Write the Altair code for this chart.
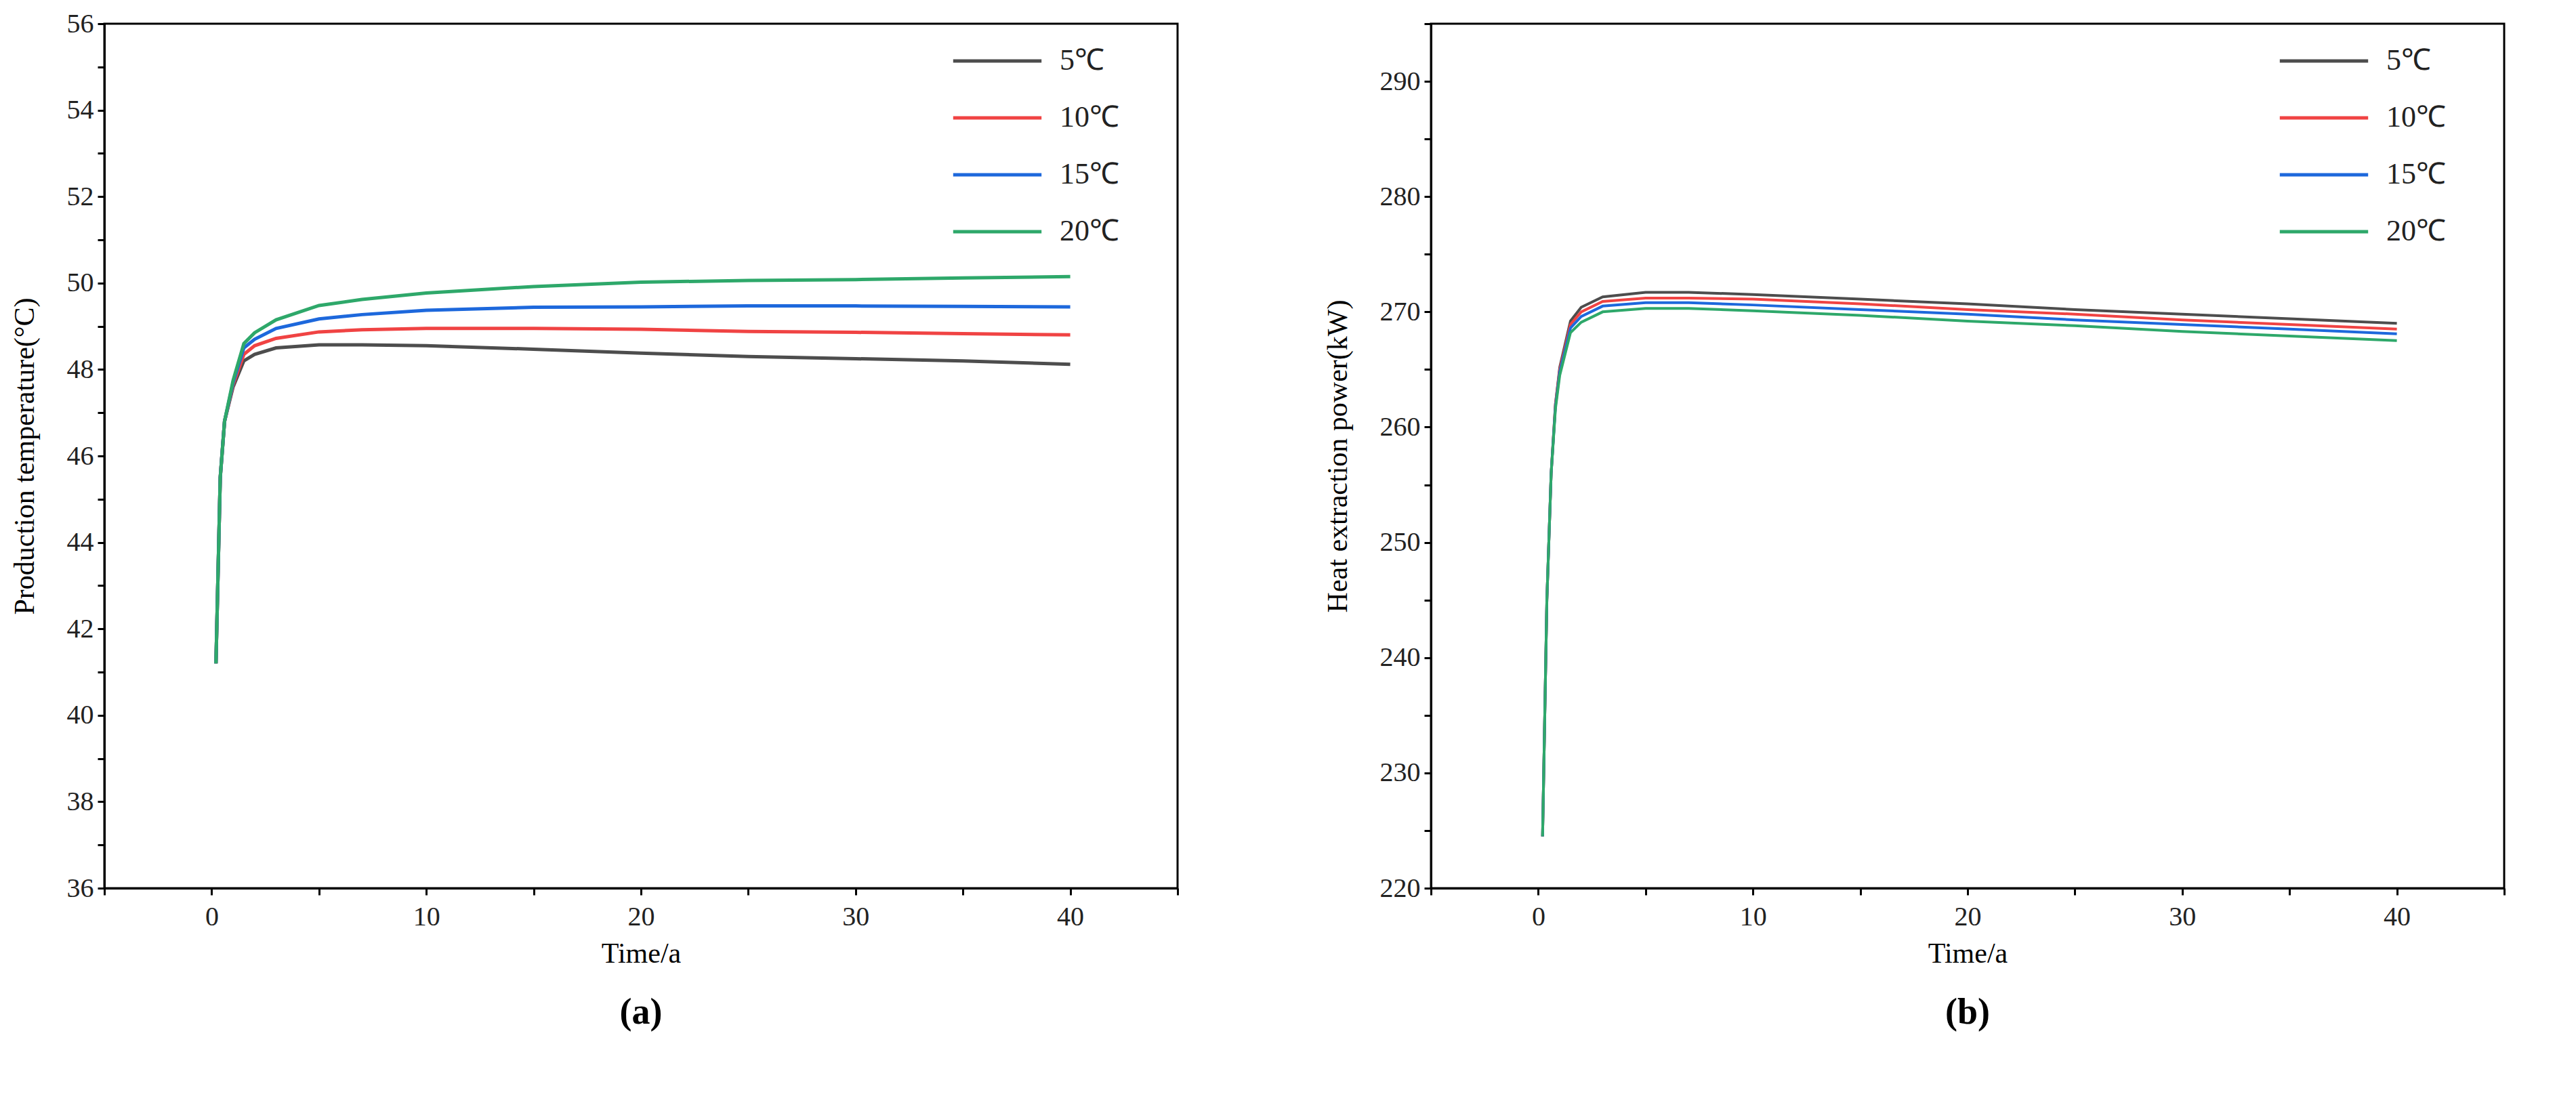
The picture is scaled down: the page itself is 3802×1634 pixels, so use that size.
import altair as alt
import pandas as pd

series = ["5℃", "10℃", "15℃", "20℃"]
colors = ["#4d4d4d", "#f04343", "#1d68dc", "#2ea86a"]

t_a = [0.2, 0.4, 0.6, 1.0, 1.5, 2, 3, 5, 7, 10, 15, 20, 25, 30, 35, 40]
temp_5 = [41.2, 45.5, 46.8, 47.6, 48.2, 48.35, 48.5, 48.57, 48.57, 48.55, 48.47, 48.38, 48.3, 48.25, 48.2, 48.12]
temp_10 = [41.2, 45.5, 46.8, 47.65, 48.35, 48.55, 48.72, 48.87, 48.92, 48.95, 48.95, 48.93, 48.88, 48.86, 48.83, 48.8]
temp_15 = [41.2, 45.5, 46.8, 47.7, 48.5, 48.7, 48.95, 49.17, 49.27, 49.37, 49.44, 49.45, 49.47, 49.47, 49.46, 49.45]
temp_20 = [41.2, 45.5, 46.8, 47.75, 48.6, 48.85, 49.15, 49.48, 49.62, 49.77, 49.92, 50.02, 50.06, 50.08, 50.12, 50.15]

t_b = [0.2, 0.4, 0.6, 0.8, 1.0, 1.5, 2, 3, 5, 7, 10, 15, 20, 25, 30, 35, 40]
pow_5 = [224.5, 245, 256, 262, 265.2, 269.2, 270.4, 271.3, 271.7, 271.7, 271.5, 271.1, 270.7, 270.2, 269.8, 269.4, 269.0]
pow_10 = [224.5, 245, 256, 262, 265.0, 268.9, 270.0, 270.9, 271.2, 271.2, 271.1, 270.7, 270.2, 269.8, 269.3, 268.9, 268.5]
pow_15 = [224.5, 245, 256, 261.8, 264.8, 268.6, 269.6, 270.5, 270.8, 270.8, 270.6, 270.2, 269.8, 269.3, 268.9, 268.5, 268.1]
pow_20 = [224.5, 245, 256, 261.6, 264.5, 268.2, 269.1, 270.0, 270.3, 270.3, 270.1, 269.7, 269.2, 268.8, 268.3, 267.9, 267.5]

def frame(t, cols):
    rows = []
    for name, vals in zip(series, cols):
        for x, v in zip(t, vals):
            rows.append({"t": x, "v": v, "s": name})
    return pd.DataFrame(rows)

df_a = frame(t_a, [temp_5, temp_10, temp_15, temp_20])
df_b = frame(t_b, [pow_5, pow_10, pow_15, pow_20])

FONT = "Liberation Serif"

def panel(df, ydom, ystep, yminor, ytitle, label, lw):
    yvals = [ydom[0] + i * yminor for i in range(int(round((ydom[1] - ydom[0]) / yminor)) + 1)]
    return alt.Chart(df).mark_line(strokeWidth=lw).encode(
        x=alt.X("t:Q", scale=alt.Scale(domain=[-5, 45], nice=False),
                axis=alt.Axis(title="Time/a", values=list(range(-5, 46, 5)),
                              labelExpr="datum.value % 10 == 0 ? datum.label : ''",
                              grid=False, tickSize=10, labelPadding=12, titlePadding=14)),
        y=alt.Y("v:Q", scale=alt.Scale(domain=ydom, nice=False, zero=False),
                axis=alt.Axis(title=ytitle, values=yvals,
                              labelExpr=f"(datum.value - {ydom[0]}) % {ystep} == 0 ? datum.label : ''",
                              grid=False, tickSize=10, labelPadding=6, titlePadding=40)),
        color=alt.Color("s:N", scale=alt.Scale(domain=series, range=colors),
                        legend=alt.Legend(title=None, orient="none", legendX=1250, legendY=40,
                                          symbolType="stroke", symbolSize=17000, symbolStrokeWidth=5,
                                          clipHeight=30, rowPadding=40, labelFontSize=44,
                                          labelOffset=24, labelFont=FONT, labelColor="#222")),
    ).properties(width=1584, height=1276,
                 title=alt.TitleParams(label, orient="bottom", fontSize=54, font=FONT,
                                       fontWeight="bold", offset=40, color="#000"))

pa = panel(df_a, [36, 56], 2, 1, "Production temperature(°C)", "(a)", 5)
pb = panel(df_b, [220, 295], 10, 5, "Heat extraction power(kW)", "(b)", 4)

chart = alt.hconcat(pa, pb, spacing=210, background="white").resolve_scale(
    color="independent"
).configure_view(
    stroke="#000", strokeWidth=3
).configure_axis(
    labelFont=FONT, titleFont=FONT, labelFontSize=40, titleFontSize=42,
    titleFontWeight="normal", labelColor="#222", titleColor="#000",
    domainColor="#000", tickColor="#000", domainWidth=3, tickWidth=3
)

chart.save("out.html", embed_options={"renderer": "svg", "actions": False})
